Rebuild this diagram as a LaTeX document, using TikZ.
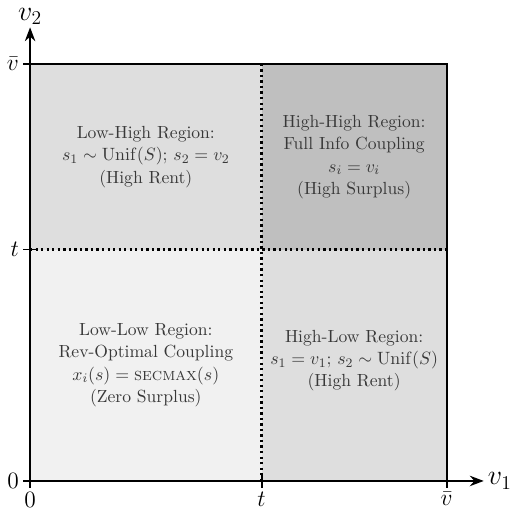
\documentclass[tikz,border=0pt]{standalone}
\usetikzlibrary{arrows.meta, positioning}
\definecolor{clow}{gray}{0.945}
\definecolor{cmid}{gray}{0.87}
\definecolor{chigh}{gray}{0.75}
\definecolor{ctext}{gray}{0.22}
\tikzset{
  every picture/.style={line width=1.2pt},
  label/.style={align=center, font=\fontsize{10.8}{13.8}\selectfont, text=ctext},
  axis/.style={-{Stealth[length=3mm]}, line width=1.2pt},
  split/.style={dotted, line width=1.4pt},
  tick/.style={font=\Large, inner sep=2pt},
}

\begin{document}
\begin{tikzpicture}
  \useasboundingbox (-0.65,-0.73) rectangle (10.54,10.39);
  % regions
  \fill[clow] (0,0) rectangle (5,5);
  \fill[cmid] (5,0) rectangle (9,5);
  \fill[cmid] (0,5) rectangle (5,9);
  \fill[chigh] (5,5) rectangle (9,9);
  \draw (0,0) rectangle (9,9);
  \draw[split] (5,0) -- (5,9);
  \draw[split] (0,5) -- (9,5);
  % axes
  \coordinate (o) at (0,0);
  \coordinate (xend) at (9.8,0);
  \coordinate (yend) at (0,9.8);
  \draw[axis] (o) -- (xend) node[right, font=\LARGE, inner sep=2pt] (xlab) {$v_1$};
  \draw[axis] (o) -- (yend) node[above, font=\LARGE, inner sep=1pt] (ylab) {$v_2$};
  \foreach \x/\t in {0/0, 5/t, 9/\bar{v}} {
    \draw (\x,0.15) -- (\x,-0.15) node[below, tick] {$\t$};
    \draw (0.15,\x) -- (-0.15,\x) node[left, tick] {$\t$};
  }
  % labels
  \node[label] (lowhigh) at (2.5,7) {Low-High Region:\\$s_1 \sim \mathrm{Unif}(S)$; $s_2 = v_2$\\(High Rent)};
  \node[label] (highhigh) at (7,7) {High-High Region:\\Full Info Coupling\\$s_i = v_i$\\(High Surplus)};
  \node[label] (lowlow) at (2.5,2.5) {Low-Low Region:\\Rev-Optimal Coupling\\$x_i(s) = \textsc{secmax}(s)$\\(Zero Surplus)};
  \node[label] (highlow) at (7,2.6) {High-Low Region:\\$s_1 = v_1$; $s_2 \sim \mathrm{Unif}(S)$\\(High Rent)};
\end{tikzpicture}
\end{document}
